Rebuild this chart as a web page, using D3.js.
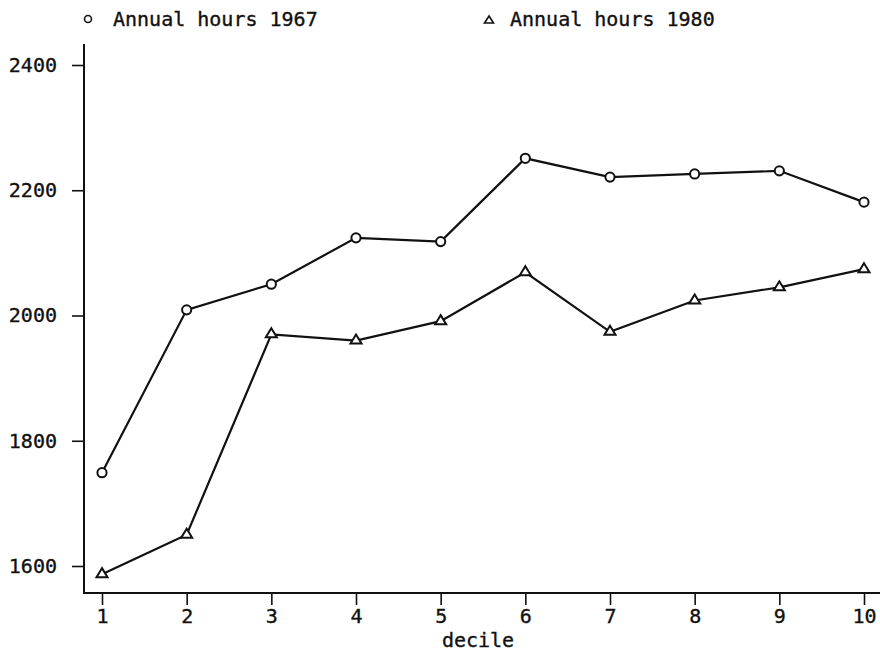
<!DOCTYPE html>
<html>
<head>
<meta charset="utf-8">
<script src="https://cdn.jsdelivr.net/npm/d3@7"></script>
<style>
  body { margin: 0; background: #fff; }
  svg text { font-family: "DejaVu Sans Mono", monospace; font-size: 20px; fill: #111; stroke: #111; stroke-width: 0.35px; }
</style>
</head>
<body>
<div id="chart"></div>
<script>
// valores
const deciles = [1, 2, 3, 4, 5, 6, 7, 8, 9, 10];
const hours1967 = [1749, 2009, 2050, 2124, 2118, 2251, 2221, 2226, 2231, 2181];
const hours1980 = [1587, 1650, 1970, 1960, 1991, 2069, 1974, 2024, 2045, 2074];
const yTicks = [1600, 1800, 2000, 2200, 2400];
const seriesNames = ["Annual hours 1967", "Annual hours 1980"];

const width = 880, height = 653;

const svg = d3.select("#chart").append("svg")
  .attr("width", width)
  .attr("height", height);

// escalas
const x = d3.scaleLinear().domain([1, 10]).range([102, 864]);
const y = d3.scaleLinear().domain([1600, 2400]).range([566, 65]);

const axisLeftX = 84, axisBottomY = 593, axisTopY = 44;

// eixo Y
const yAxis = svg.append("g")
  .attr("transform", `translate(${axisLeftX},0)`)
  .call(d3.axisLeft(y).tickValues(yTicks).tickSize(12).tickPadding(15).tickFormat(d3.format("d")));
yAxis.select(".domain").remove();
yAxis.append("line")
  .attr("x1", 0).attr("x2", 0).attr("y1", axisTopY).attr("y2", axisBottomY)
  .attr("stroke", "#111").attr("stroke-width", 2);

// eixo X
const xAxis = svg.append("g")
  .attr("transform", `translate(0,${axisBottomY})`)
  .call(d3.axisBottom(x).tickValues(deciles).tickSize(12).tickPadding(4).tickFormat(d3.format("d")));
xAxis.select(".domain").remove();
xAxis.append("line")
  .attr("x1", axisLeftX - 1).attr("x2", width).attr("y1", 0).attr("y2", 0)
  .attr("stroke", "#111").attr("stroke-width", 2);

svg.selectAll(".tick line").attr("stroke", "#111").attr("stroke-width", 1.6);
svg.selectAll(".tick text").style("font-size", "20px").style("font-family", "DejaVu Sans Mono, monospace");

svg.append("text")
  .attr("x", 478).attr("y", 647)
  .attr("text-anchor", "middle")
  .text("decile");

// linhas
const line = d3.line()
  .x((d, i) => x(deciles[i]))
  .y(d => y(d));

[hours1967, hours1980].forEach(vals => {
  svg.append("path")
    .datum(vals)
    .attr("d", line)
    .attr("fill", "none")
    .attr("stroke", "#111")
    .attr("stroke-width", 2.2);
});

// marcadores
const triangle = "M0,-5L5.5,4L-5.5,4Z";

svg.selectAll(".m67").data(hours1967).enter()
  .append("circle")
  .attr("cx", (d, i) => x(deciles[i]))
  .attr("cy", d => y(d))
  .attr("r", 4.6)
  .attr("fill", "#fff")
  .attr("stroke", "#111")
  .attr("stroke-width", 2);

svg.selectAll(".m80").data(hours1980).enter()
  .append("path")
  .attr("d", triangle)
  .attr("transform", (d, i) => `translate(${x(deciles[i])},${y(d) - 1})`)
  .attr("fill", "#fff")
  .attr("stroke", "#111")
  .attr("stroke-width", 2);

// legenda
const legend = svg.append("g");
legend.append("circle")
  .attr("cx", 88).attr("cy", 19).attr("r", 3.5)
  .attr("fill", "none").attr("stroke", "#111").attr("stroke-width", 1.6);
legend.append("text").attr("x", 113).attr("y", 26).text(seriesNames[0]);

legend.append("path")
  .attr("d", "M0,-4L4.5,3L-4.5,3Z")
  .attr("transform", "translate(489,20)")
  .attr("fill", "none").attr("stroke", "#111").attr("stroke-width", 1.6);
legend.append("text").attr("x", 510).attr("y", 26).text(seriesNames[1]);
</script>
</body>
</html>
